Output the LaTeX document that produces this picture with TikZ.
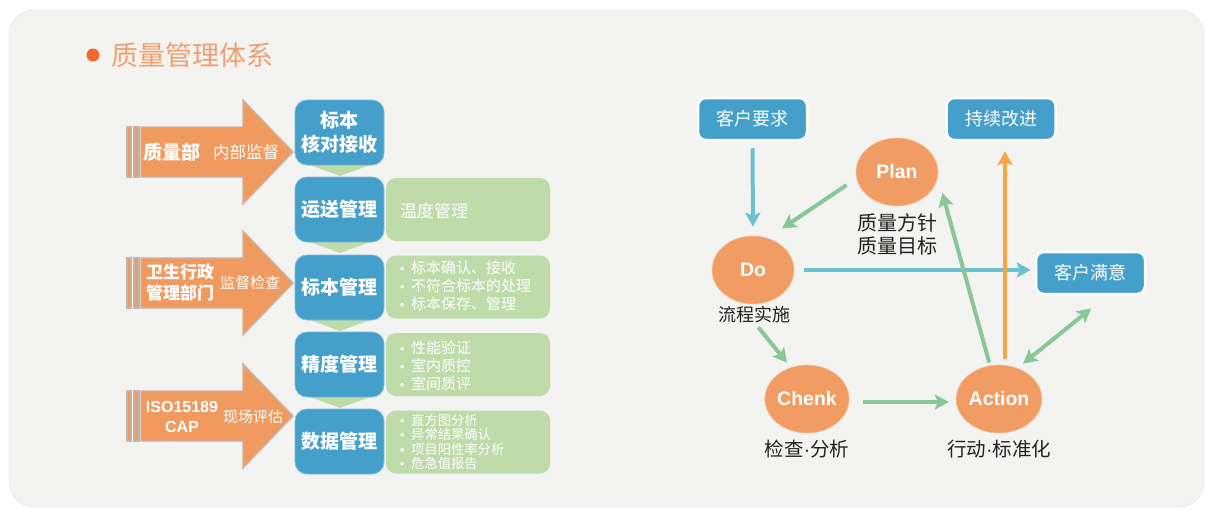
\documentclass[tikz,border=0pt]{standalone}
\usepackage{fontspec}
\setmainfont{Noto Sans CJK SC}
\newfontfamily\lat{Liberation Sans}
\usetikzlibrary{arrows.meta,shapes.geometric}
\definecolor{panel}{HTML}{F3F3F1}
\definecolor{bluebox}{HTML}{449FCB}
\definecolor{greenbox}{HTML}{BEDBA9}
\definecolor{orgell}{HTML}{F09C63}
\definecolor{orgarrow}{HTML}{F09A60}
\definecolor{arrowedge}{HTML}{C8B4A6}
\definecolor{cyanline}{HTML}{6DC0D0}
\definecolor{greenline}{HTML}{8AC797}
\definecolor{orangeline}{HTML}{F7A446}
\definecolor{titletxt}{HTML}{F0A070}
\definecolor{titledot}{HTML}{F36A2E}
\definecolor{darktxt}{HTML}{222222}
\newcommand\myfs[2]{\fontsize{#1}{#2}\selectfont}
\newcommand\mybul{\makebox[11pt][l]{\lat\fontsize{13}{13}\selectfont \textbullet}}
\newcommand\mydot{{\lat\,·\,}}
\begin{document}
\begin{tikzpicture}[x=1pt,y=-1pt,
  larrow/.style={fill=orgarrow,draw=arrowedge,line width=1.4pt,line join=miter},
  ltext/.style={text=white,inner sep=0pt},
  bluestep/.style={rectangle,rounded corners=12pt,fill=bluebox,draw=bluebox!70!white,line width=0.8pt,
    minimum width=89pt,minimum height=65pt,inner sep=0pt,text=white,align=center,
    font=\myfs{19}{24}\bfseries},
  greenpane/.style={rectangle,rounded corners=10pt,fill=greenbox,draw=none,
    minimum width=164pt,minimum height=63pt,inner sep=0pt},
  gtext/.style={text=white,inner sep=0pt,anchor=west,align=left},
  rbox/.style={rectangle,rounded corners=8pt,fill=bluebox,draw=white,line width=2.5pt,
    minimum width=109pt,minimum height=42pt,inner sep=0pt,text=white,font=\myfs{18}{20}},
  pdca/.style={ellipse,fill=orgell,draw=orgell!60!white,line width=0.6pt,
    minimum width=82pt,minimum height=68pt,inner sep=0pt,text=white,font=\lat\myfs{19.5}{22}\bfseries},
  dlabel/.style={text=darktxt,inner sep=0pt,align=center},
  cyanarr/.style={draw=cyanline,line width=4pt,-{Stealth[length=14pt,width=15pt,inset=3pt]}},
  greenarr/.style={draw=greenline,line width=4pt,-{Stealth[length=14pt,width=15pt,inset=3pt]}},
  greendbl/.style={draw=greenline,line width=4pt,{Stealth[length=14pt,width=15pt,inset=3pt]}-{Stealth[length=14pt,width=15pt,inset=3pt]}},
  orangearr/.style={draw=orangeline,line width=4pt,-{Stealth[length=14pt,width=15pt,inset=3pt]}}
]
\useasboundingbox (0,0) rectangle (1205,509);
\fill[white] (0,0) rectangle (1205,509);
\filldraw[fill=panel,draw=black!7,line width=0.8pt,rounded corners=25pt] (9,10) rectangle (1204,507);

% title
\node[circle,fill=titledot,minimum size=13pt,inner sep=0pt] (tdot) at (93,55) {};
\node[anchor=west,text=titletxt,inner sep=0pt,font=\myfs{27}{30}] (title) at (111,55) {质量管理体系};

% left block arrows
\foreach \c in {152,283,416} {
  \draw[larrow] (141,\c-25) -- (243,\c-25) -- (243,\c-52) -- (293,\c) -- (243,\c+52) -- (243,\c+25) -- (141,\c+25) -- cycle;
  \draw[larrow] (127,\c-25) rectangle (131,\c+25);
  \draw[larrow] (134,\c-25) rectangle (139,\c+25);
}
\node[ltext,font=\myfs{19}{22}\bfseries] (qd) at (172,152) {质量部};
\node[ltext,font=\myfs{16.5}{20}] (qdn) at (246,152) {内部监督};
\node[ltext,font=\myfs{17}{21}\bfseries,align=center] (ws) at (180,283) {卫生行政\\管理部门};
\node[ltext,font=\myfs{15}{18}] (wsn) at (250,283) {监督检查};
\node[ltext,font=\lat\myfs{16}{19.5}\bfseries,align=center] (iso) at (182,417) {ISO15189\\CAP};
\node[ltext,font=\myfs{15}{18}] (isn) at (253,417) {现场评估};

% green panes
\node[greenpane] (g2) at (468,209.5) {};
\node[greenpane] (g3) at (468,287) {};
\node[greenpane] (g4) at (468,364.5) {};
\node[greenpane] (g5) at (468,442) {};

% chevrons
\foreach \yb in {165,242,320,397} {
  \fill[greenbox] (302,\yb-3) -- (378,\yb-3) -- (340,\yb+11) -- cycle;
}

% blue steps
\node[bluestep] (b1) at (339.5,132.5) {标本\\核对接收};
\node[bluestep] (b2) at (339.5,209.5) {运送管理};
\node[bluestep] (b3) at (339.5,287.5) {标本管理};
\node[bluestep] (b4) at (339.5,364.5) {精度管理};
\node[bluestep] (b5) at (339.5,441.5) {数据管理};

% green texts
\node[gtext,font=\myfs{17}{20}] (t2) at (400,211) {温度管理};
\node[gtext,font=\myfs{15}{18}] (t3) at (400,285.5) {\mybul 标本确认、接收\\\mybul 不符合标本的处理\\\mybul 标本保存、管理};
\node[gtext,font=\myfs{15}{18}] (t4) at (400,365.5) {\mybul 性能验证\\\mybul 室内质控\\\mybul 室间质评};
\node[gtext,font=\myfs{13.3}{14.4}] (t5) at (400,442) {\mybul 直方图分析\\\mybul 异常结果确认\\\mybul 项目阳性率分析\\\mybul 危急值报告};

% right side boxes
\node[rbox] (req) at (752.5,119) {客户要求};
\node[rbox] (imp) at (1001,119) {持续改进};
\node[rbox] (sat) at (1090.5,273) {客户满意};

% PDCA
\node[pdca] (plan) at (897,172) {Plan};
\node[pdca] (do) at (753,270) {Do};
\node[pdca] (chenk) at (807,399) {Chenk};
\node[pdca] (action) at (999,399) {Action};

\node[dlabel,font=\myfs{20}{23}] (planlbl) at (897,234.5) {质量方针\\质量目标};
\node[dlabel,font=\myfs{18}{20}] (dolbl) at (754,315) {流程实施};
\node[dlabel,font=\myfs{19.5}{22}] (chklbl) at (807,449) {检查{\lat·}分析};
\node[dlabel,font=\myfs{19.5}{22}] (actlbl) at (999,449) {行动{\lat·}标准化};

% connectors
\draw[cyanarr,shorten <=7pt,shorten >=9pt] (req.south) -- (do.north);
\draw[greenarr,shorten <=12pt,shorten >=17pt] (plan.189) -- (do.65);
\draw[cyanarr,shorten <=10pt,shorten >=4pt] (do.east) -- (do.east -| sat.west);
\draw[greenarr,shorten <=33pt,shorten >=6pt] (do.244) -- (chenk.117);
\draw[greenarr,shorten <=14pt,shorten >=7pt] ([yshift=-3pt]chenk.east) -- ([yshift=-3pt]action.west);
\draw[greenarr,shorten <=3pt,shorten >=16.5pt] (action.105) -- (plan.353);
\draw[orangearr,shorten <=6pt,shorten >=10pt] (action.80) -- (action.80 |- imp.south);
\draw[greendbl,shorten <=7pt,shorten >=21pt] (action.59) -- ([xshift=17pt]sat.south);
\end{tikzpicture}
\end{document}
